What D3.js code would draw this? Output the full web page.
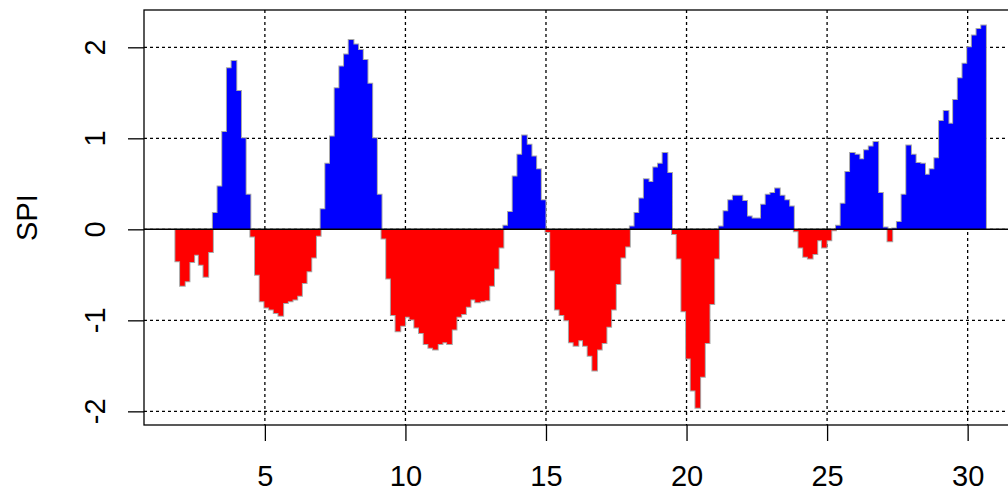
<!DOCTYPE html>
<html>
<head>
<meta charset="utf-8">
<script src="https://cdn.jsdelivr.net/npm/d3@7"></script>
<style>
  html, body { margin: 0; padding: 0; background: #fff; overflow: hidden; }
  text { font-family: "Liberation Sans", Arial, sans-serif; fill: #000; }
</style>
</head>
<body>
<script>
// time index (years) : first value and step between values
const START = 1.9;
const STEP = 1 / 6;

const SPI = [
  -0.35, -0.62, -0.57, -0.36, -0.28, -0.39, -0.52, -0.25, 0.18, 0.47,
  1.07, 1.77, 1.85, 1.52, 1.0, 0.38, -0.08, -0.5, -0.79, -0.86,
  -0.88, -0.92, -0.95, -0.81, -0.79, -0.77, -0.73, -0.59, -0.46, -0.31,
  -0.07, 0.22, 0.72, 1.02, 1.55, 1.79, 1.92, 2.08, 2.03, 1.97,
  1.86, 1.60, 1.0, 0.38, -0.1, -0.54, -0.94, -1.12, -1.06, -0.96,
  -0.99, -1.08, -1.14, -1.26, -1.30, -1.32, -1.26, -1.24, -1.26, -1.10,
  -0.96, -0.93, -0.85, -0.77, -0.80, -0.79, -0.78, -0.62, -0.43, -0.20,
  0.04, 0.19, 0.58, 0.82, 1.03, 0.93, 0.80, 0.66, 0.32, -0.03,
  -0.45, -0.88, -0.94, -1.00, -1.24, -1.28, -1.22, -1.28, -1.39, -1.55,
  -1.32, -1.25, -1.07, -0.88, -0.60, -0.31, -0.19, 0.03, 0.18, 0.34,
  0.55, 0.52, 0.68, 0.72, 0.84, 0.62, -0.05, -0.32, -0.90, -1.42,
  -1.77, -1.96, -1.62, -1.25, -0.82, -0.32, 0.03, 0.20, 0.32, 0.37,
  0.37, 0.31, 0.14, 0.12, 0.12, 0.27, 0.38, 0.40, 0.45, 0.37,
  0.32, 0.25, -0.02, -0.20, -0.30, -0.32, -0.27, -0.12, -0.20, -0.12,
  -0.01, 0.04, 0.28, 0.63, 0.84, 0.82, 0.77, 0.87, 0.91, 0.96,
  0.40, 0.02, -0.13, 0.01, 0.08, 0.38, 0.92, 0.82, 0.73, 0.72,
  0.60, 0.66, 0.78, 1.19, 1.30, 1.16, 1.42, 1.66, 1.82, 2.00,
  2.13, 2.20, 2.24
];

const X_TICKS = [5, 10, 15, 20, 25, 30];
const Y_TICKS = [-2, -1, 0, 1, 2];

const W = 1008, H = 491;
const pLeft = 144, pRight = 1016, pTop = 10, pBottom = 425;

const data = SPI.map((v, i) => ({ t: START + i * STEP, v: v }));

const x = d3.scaleLinear().domain([0.70, 31.72]).range([pLeft, pRight]);
const y = d3.scaleLinear().domain([-2.15, 2.41]).range([pBottom, pTop]);

const svg = d3.select('body').append('svg')
  .attr('width', W)
  .attr('height', H);

// dotted grid
const grid = svg.append('g')
  .attr('stroke', '#000')
  .attr('stroke-width', 1.3)
  .attr('stroke-dasharray', '3,3');

grid.selectAll('.gx').data(X_TICKS).enter().append('line')
  .attr('x1', d => x(d)).attr('x2', d => x(d))
  .attr('y1', pTop).attr('y2', pBottom);

grid.selectAll('.gy').data(Y_TICKS).enter().append('line')
  .attr('x1', pLeft).attr('x2', pRight)
  .attr('y1', d => y(d)).attr('y2', d => y(d));

// step points: each value spans half a step either side
const h = STEP / 2;
let pts = [];
data.forEach(d => {
  pts.push({ t: d.t - h, v: d.v });
  pts.push({ t: d.t + h, v: d.v });
});

// gray outline underneath the fill
let outline = [{ t: pts[0].t, v: 0 }].concat(pts, [{ t: pts[pts.length - 1].t, v: 0 }]);
svg.append('path')
  .attr('d', d3.line().x(d => x(d.t)).y(d => y(d.v))(outline))
  .attr('fill', 'none')
  .attr('stroke', '#a8a8a8')
  .attr('stroke-width', 2);

// positive part blue, negative part red
const area = d3.area()
  .x(d => x(d.t))
  .y0(y(0));

svg.append('path')
  .attr('d', area.y1(d => y(Math.max(d.v, 0)))(pts))
  .attr('fill', '#0000ff');

svg.append('path')
  .attr('d', area.y1(d => y(Math.min(d.v, 0)))(pts))
  .attr('fill', '#ff0000');

// zero line
svg.append('line')
  .attr('x1', pLeft).attr('x2', pRight)
  .attr('y1', y(0)).attr('y2', y(0))
  .attr('stroke', '#000')
  .attr('stroke-width', 1.5);

// box
svg.append('rect')
  .attr('x', pLeft).attr('y', pTop)
  .attr('width', pRight - pLeft).attr('height', pBottom - pTop)
  .attr('fill', 'none')
  .attr('stroke', '#000')
  .attr('stroke-width', 1.3);

// axes
const xAxis = d3.axisBottom(x).tickValues(X_TICKS).tickSize(16).tickSizeOuter(0);
const yAxis = d3.axisLeft(y).tickValues(Y_TICKS).tickSize(16).tickSizeOuter(0);

const gx = svg.append('g')
  .attr('transform', 'translate(0,' + pBottom + ')')
  .call(xAxis);
gx.select('.domain').remove();
gx.selectAll('line').attr('stroke', '#000').attr('stroke-width', 1.3);
gx.selectAll('text')
  .attr('font-size', 29)
  .attr('dy', null)
  .attr('y', 61)
  .attr('fill', '#000')
  .attr('font-family', '"Liberation Sans", Arial, sans-serif');

const gy = svg.append('g')
  .attr('transform', 'translate(' + pLeft + ',0)')
  .call(yAxis);
gy.select('.domain').remove();
gy.selectAll('line').attr('stroke', '#000').attr('stroke-width', 1.3);
gy.selectAll('text').remove();

svg.append('g').selectAll('text').data(Y_TICKS).enter().append('text')
  .attr('transform', d => 'translate(105,' + y(d) + ') rotate(-90)')
  .attr('text-anchor', 'middle')
  .attr('font-size', 29)
  .text(d => d);

svg.append('text')
  .attr('transform', 'translate(37,' + ((pTop + pBottom) / 2) + ') rotate(-90)')
  .attr('text-anchor', 'middle')
  .attr('font-size', 29)
  .text('SPI');
</script>
</body>
</html>
